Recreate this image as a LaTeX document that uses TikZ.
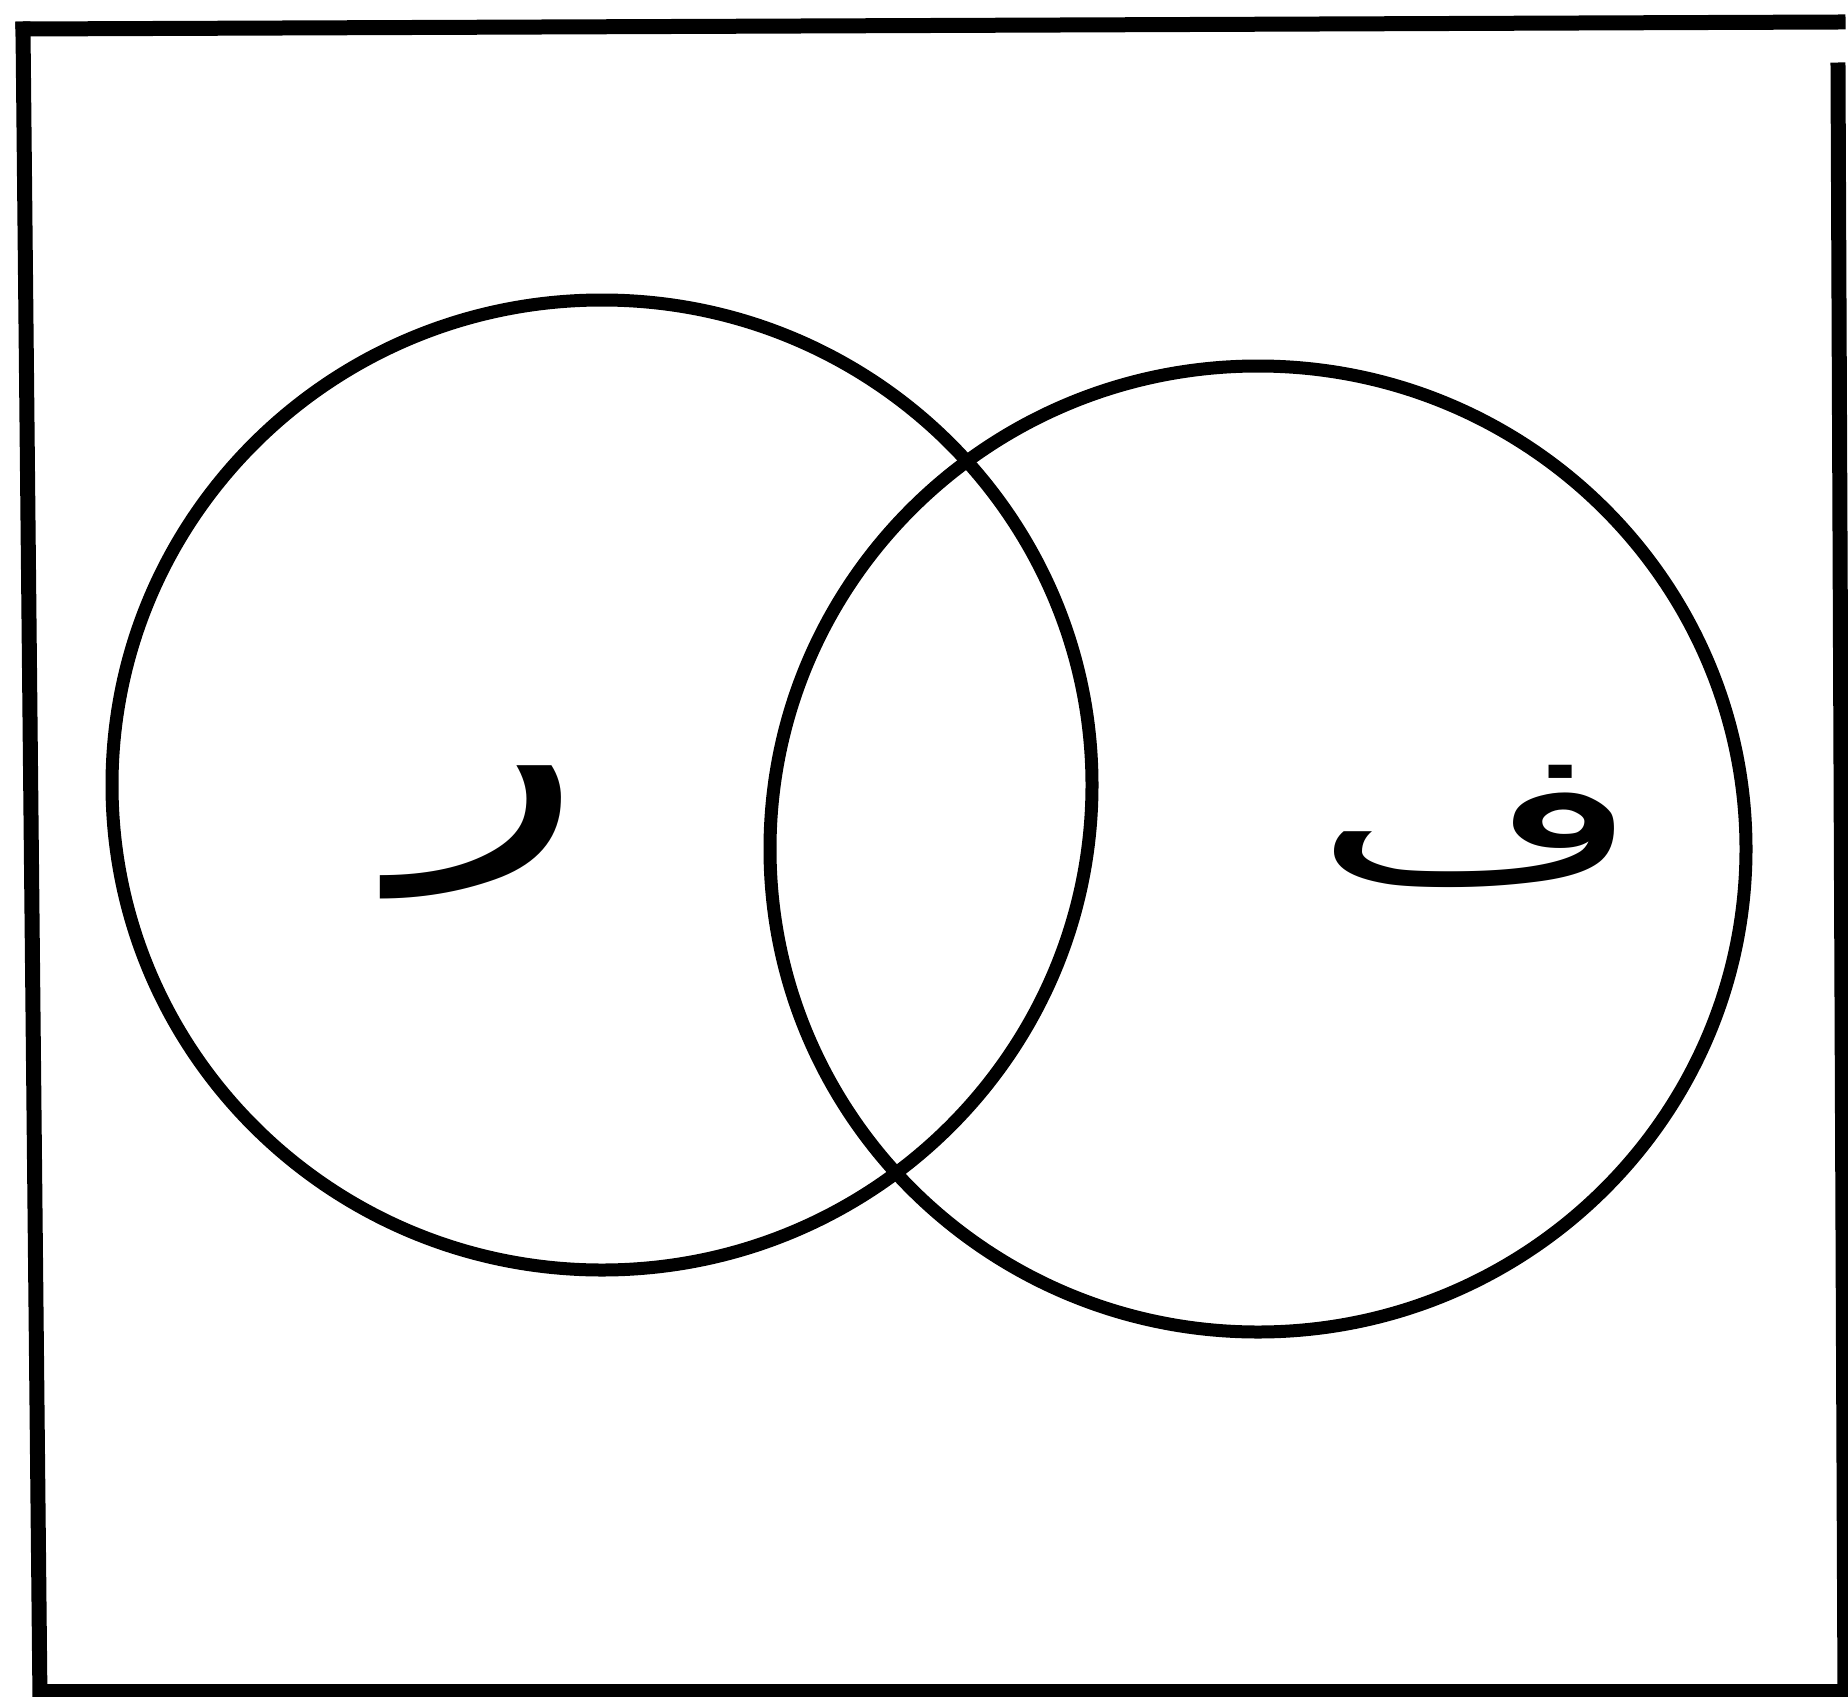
\documentclass[tikz,border=0pt]{standalone}
\usepackage{fontspec}
\newfontfamily\arabicfont[Script=Arabic]{DejaVu Sans}
\TeXXeTstate=1
\tikzset{
  frameline/.style={line width=7.5pt, line cap=rect},
  setline/.style={line width=6.5pt},
  letter/.style={inner sep=0pt, outer sep=0pt, anchor=center}
}
\begin{document}
\begin{tikzpicture}[x=0.5pt, y=-0.5pt]
\useasboundingbox (0,0) rectangle (1848,1697);
\fill[white] (0,0) rectangle (1848,1697);
% frame
\coordinate (tl) at (23,29);
\coordinate (tr) at (1838,22);
\coordinate (rt) at (1838,70);
\coordinate (rb) at (1845,1700);
\coordinate (lb) at (40,1700);
\coordinate (bl) at (40,1691);
\coordinate (br) at (1848,1691);
\draw[frameline] (tl) -- (tr);
\draw[frameline] (tl) -- (lb);
\draw[frameline] (rt) -- (rb);
\draw[frameline] (bl) -- (br);
% circles
\coordinate (cl) at (602,785);
\coordinate (cr) at (1258,849);
\draw[setline] (cl) ellipse [x radius=490, y radius=485];
\draw[setline] (cr) ellipse [x radius=488, y radius=483];
% letters
\node[letter, xscale=1.5] (ra) at (491,832) {\fontsize{130}{140}\selectfont\arabicfont\beginR ر\endR};
\node[letter, yscale=0.6, xscale=1.05] (fa) at (1478,826) {\fontsize{150}{160}\selectfont\arabicfont\beginR ف\endR};
\end{tikzpicture}
\end{document}
